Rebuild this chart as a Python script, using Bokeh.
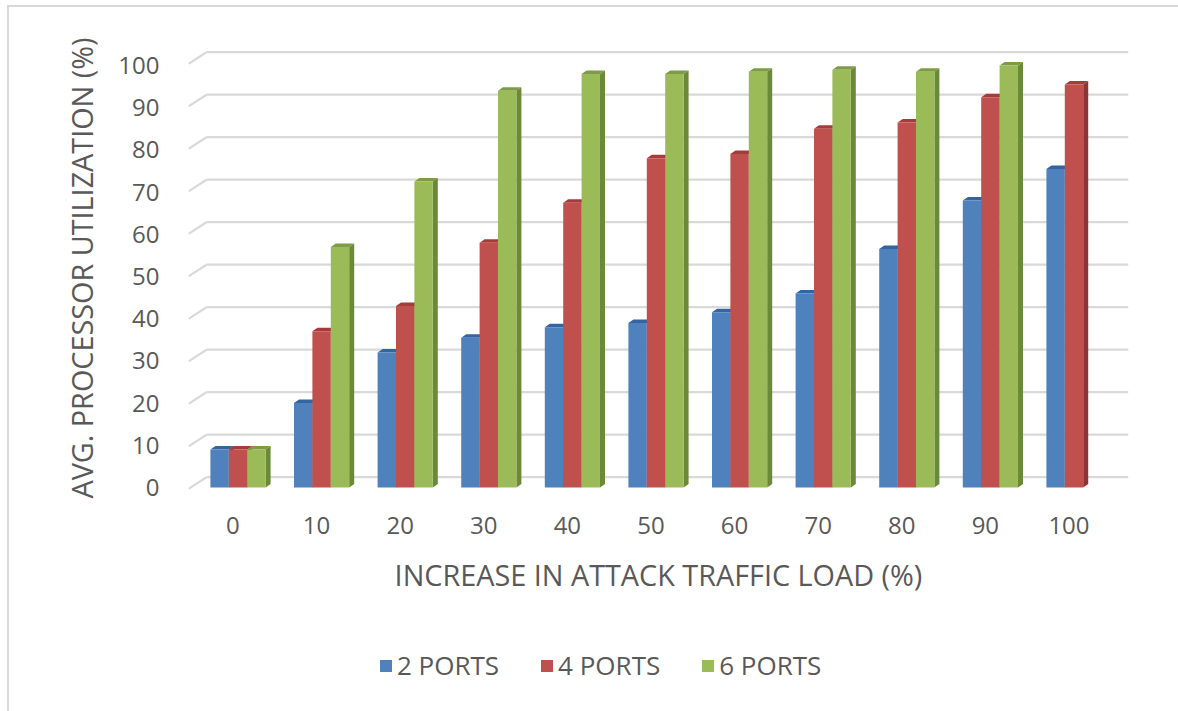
import numpy as np
from bokeh.plotting import figure
from bokeh.layouts import column
from bokeh.models import Range1d, FixedTicker, Legend, LegendItem
from bokeh.embed import file_html
from bokeh.resources import INLINE

# ---------------- data ----------------
categories = ["0", "10", "20", "30", "40", "50", "60", "70", "80", "90", "100"]
y_ticks = [0, 10, 20, 30, 40, 50, 60, 70, 80, 90, 100]
series_names = ["2 PORTS", "4 PORTS", "6 PORTS"]
ports_2 = [9, 20, 32, 35.5, 38, 39, 41.5, 46, 56.5, 68, 75.5]
ports_4 = [9, 37, 43, 58, 67.5, 78, 79, 85, 86.5, 92.5, 95.5]
ports_6 = [9, 57, 72.5, 94, 98, 98, 98.5, 99, 98.5, 100, None]

# ---------------- style / geometry ----------------
FRONT = ["#4F81BD", "#C0504D", "#9BBB59"]
SIDE = ["#37598A", "#8E3432", "#6B8A37"]
TOP = ["#3565A0", "#A53C3A", "#7D9C45"]
TEXT = "#595959"
GRID = "#D9D9D9"
FONT = "Open Sans"

X0, X1 = -0.532, 10.712        # x range (category index units)
Y0, Y1 = -0.71, 104.74         # y range (value units)
BAR_W = 0.22
OFFS = [-0.16, 0.06, 0.28]
DX, DY = 0.06, 0.83            # bar depth
WALL_X = -0.317                # back wall left edge
WALL_Y0, WALL_K = 2.44, 1.0071 # back wall gridline mapping
DIAG_DY = 2.77

p = figure(width=1178, height=621, output_backend="svg", toolbar_location=None,
           x_range=Range1d(X0, X1), y_range=Range1d(Y0, Y1),
           min_border_left=188, min_border_right=50, min_border_top=45,
           min_border_bottom=131)
p.border_fill_alpha = 0
p.background_fill_color = "#FFFFFF"
p.outline_line_color = None
p.grid.visible = False

# back wall gridlines + left diagonal stubs
gy = [WALL_Y0 + WALL_K * v for v in y_ticks]
p.segment(x0=[WALL_X] * len(gy), y0=gy, x1=[X1] * len(gy), y1=gy,
          line_color=GRID, line_width=2.2)
p.segment(x0=[X0] * len(gy), y0=[g - DIAG_DY for g in gy], x1=[WALL_X] * len(gy), y1=gy,
          line_color=GRID, line_width=2.2)

# 3D bars
xs = np.arange(len(categories))
for s, vals in enumerate([ports_2, ports_4, ports_6]):
    lefts, rights, tops = [], [], []
    side_x, side_y, top_x, top_y = [], [], [], []
    for i, v in enumerate(vals):
        if v is None:
            continue
        l = xs[i] + OFFS[s] - BAR_W / 2
        r = xs[i] + OFFS[s] + BAR_W / 2
        lefts.append(l); rights.append(r); tops.append(v)
        side_x.append([r, r + DX, r + DX, r]); side_y.append([0, DY, v + DY, v])
        top_x.append([l, r, r + DX, l + DX]); top_y.append([v, v, v + DY, v + DY])
    p.patches(xs=top_x, ys=top_y, fill_color=TOP[s], line_color=None)
    p.patches(xs=side_x, ys=side_y, fill_color=SIDE[s], line_color=None)
    p.quad(left=lefts, right=rights, bottom=[0] * len(tops), top=tops,
           fill_color=FRONT[s], line_color=None)

# axes
p.yaxis.ticker = FixedTicker(ticks=y_ticks)
p.xaxis.ticker = FixedTicker(ticks=list(xs))
p.xaxis.major_label_overrides = {int(i): c for i, c in zip(xs, categories)}
for ax in (p.xaxis[0], p.yaxis[0]):
    ax.axis_line_color = None
    ax.major_tick_line_color = None
    ax.minor_tick_line_color = None
    ax.major_label_text_font = FONT
    ax.major_label_text_font_size = "24px"
    ax.major_label_text_color = TEXT
    ax.axis_label_text_font = FONT
    ax.axis_label_text_font_size = "28.8px"
    ax.axis_label_text_font_style = "normal"
    ax.axis_label_text_color = TEXT
p.yaxis.major_label_standoff = 23
p.yaxis.axis_label = "AVG. PROCESSOR UTILIZATION (%)"
p.yaxis.axis_label_standoff = 14
p.xaxis.major_label_standoff = 20
p.xaxis.axis_label = "INCREASE IN ATTACK TRAFFIC LOAD (%)"
p.xaxis.axis_label_standoff = 18

# ---------------- legend strip ----------------
pl = figure(width=1178, height=90, output_backend="svg", toolbar_location=None,
            x_range=Range1d(0, 1), y_range=Range1d(0, 1),
            min_border_left=0, min_border_right=0, min_border_top=0, min_border_bottom=0)
pl.axis.visible = False
pl.grid.visible = False
pl.outline_line_color = None
pl.border_fill_alpha = 0
pl.background_fill_alpha = 0
items = []
for s in range(3):
    # zero-area swatch renderer: only its legend entry is visible
    r = pl.quad(left=[0], right=[0], bottom=[0], top=[0], fill_color=FRONT[s], line_color=None)
    items.append(LegendItem(label=series_names[s], renderers=[r]))
legend = Legend(items=items, orientation="horizontal", location=(190, 28),
                glyph_width=15, glyph_height=15, label_standoff=4, spacing=40,
                padding=0, margin=0, border_line_color=None, background_fill_alpha=0,
                label_text_font=FONT, label_text_font_size="26px", label_text_color=TEXT)
pl.add_layout(legend, "center")

layout = column(p, pl, spacing=0)
layout.styles = {"background": "linear-gradient(#D9D9D9,#D9D9D9) 7px 5px / 2px 706px no-repeat, "
                               "linear-gradient(#D9D9D9,#D9D9D9) 7px 5px / 1171px 2px no-repeat, #FFFFFF"}

open("out.html", "w").write(file_html(layout, INLINE))
